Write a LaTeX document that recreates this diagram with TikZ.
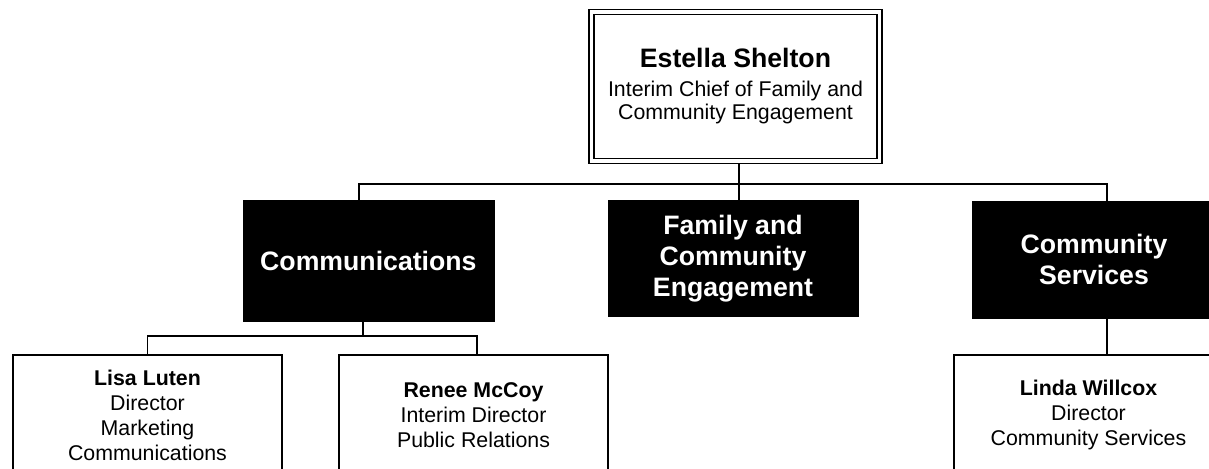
\documentclass[tikz,border=0pt]{standalone}
\usepackage{fontspec}
\setmainfont{Liberation Sans}
\usepackage{tikz}
\usetikzlibrary{calc}
\tikzset{
  chiefBox/.style={draw=black, line width=1pt, double=white, double distance=2.8pt, fill=white,
    minimum width=216pt, minimum height=111.75pt, align=center, inner sep=0pt,
    font=\fontsize{16}{17.5}\selectfont},
  unitBox/.style={draw=black, fill=black, text=white, align=center, inner sep=0pt,
    font=\fontsize{20}{23.5}\selectfont\bfseries},
  staffBox/.style={draw=black, line width=1pt, fill=white, minimum width=201.75pt,
    minimum height=90pt, align=center, inner sep=0pt, font=\fontsize{16}{18.75}\selectfont},
  link/.style={draw=black, line width=1pt}
}
\begin{document}
\begin{tikzpicture}[x=0.75pt, y=-0.75pt]
  \useasboundingbox (0,0) rectangle (1209,468);
  \clip (0,0) rectangle (1209,468);

  \coordinate (topBus) at (0,184);
  \coordinate (lowBus) at (0,336);

  \node[chiefBox] (chief) at (735.5,86.3)
    {{\fontsize{20}{22}\selectfont\bfseries Estella Shelton}\\[4pt]
     Interim Chief of Family and\\ Community Engagement};

  \node[unitBox, minimum width=188.25pt, minimum height=90.75pt] (comm) at (368.4,261.2) {Communications};
  \node[unitBox, minimum width=187.5pt, minimum height=87pt] (fam) at (733,258.7) {Family and\\Community\\Engagement};
  \node[unitBox, minimum width=183pt, minimum height=87.75pt] (cserv) at (1094,259.4) {Community\\Services};

  \node[staffBox] (lisa) at (147.5,415) {\textbf{Lisa Luten}\\Director\\Marketing\\Communications};
  \node[staffBox] (renee) at (473.5,415) {\textbf{Renee McCoy}\\Interim Director\\Public Relations};
  \node[staffBox] (linda) at (1088.5,415) {\textbf{Linda Willcox}\\Director\\Community Services};

  % top level
  \draw[link, shorten <=1.5pt] ([xshift=2.6pt]chief.south) -- ([xshift=2.6pt]chief.south |- fam.north);
  \draw[link] ([xshift=-7pt]comm.north) |- ([xshift=9.75pt]cserv.north |- topBus) -- ([xshift=9.75pt]cserv.north);

  % staff
  \draw[link] ([xshift=-4pt]comm.south) -- ([xshift=-4pt]comm.south |- lowBus);
  \draw[link] (lisa.north) |- ([xshift=2.6pt]renee.north |- lowBus) -- ([xshift=2.6pt]renee.north);
  \draw[link] ([xshift=9.75pt]cserv.south) -- ([xshift=9.75pt]cserv.south |- linda.north);
\end{tikzpicture}
\end{document}
